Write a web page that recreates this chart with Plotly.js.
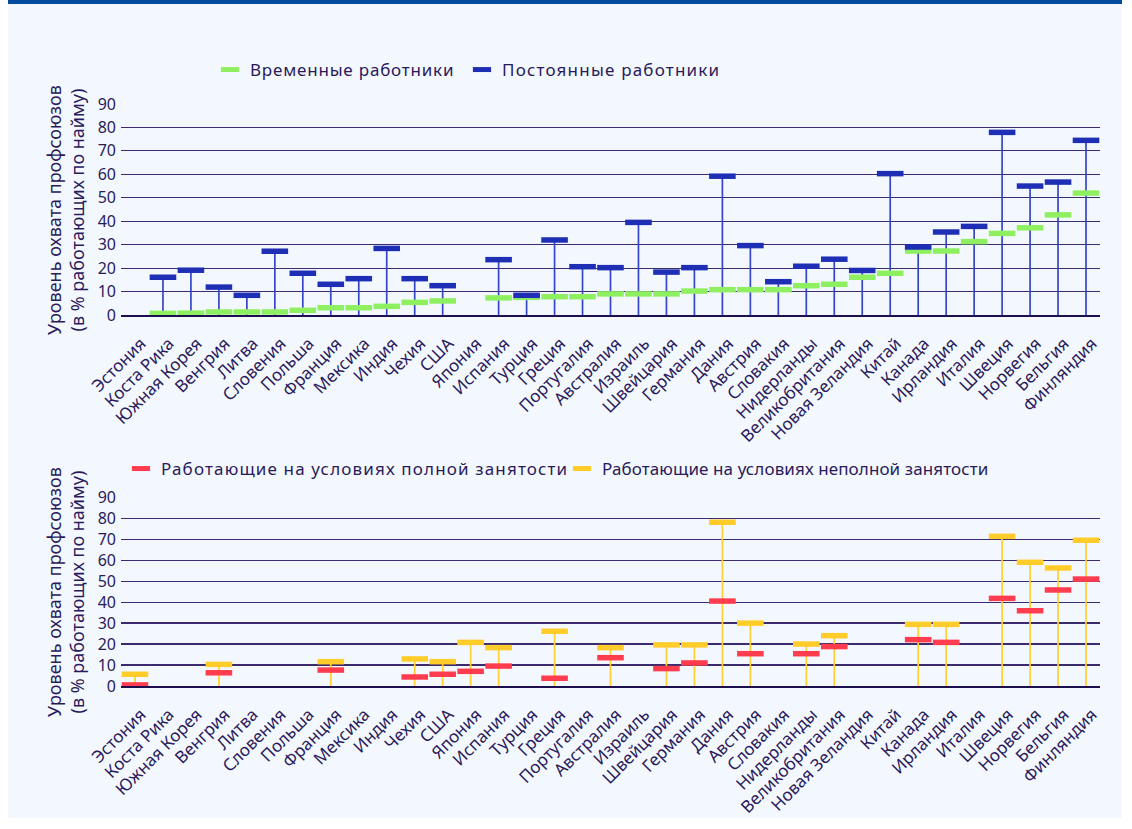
<!DOCTYPE html>
<html><head><meta charset="utf-8">
<script src="https://cdn.plot.ly/plotly-3.0.1.min.js"></script>
<style>
html,body{margin:0;padding:0;background:#ffffff;width:1132px;height:829px;overflow:hidden}
#bg{position:absolute;left:8px;top:0;width:1114px;height:818px;background:#f3f8fe;border-top:4px solid #004b9d;box-sizing:border-box}
#chart{position:absolute;left:0;top:0;width:1132px;height:829px}
</style></head>
<body>
<div id="bg"></div>
<div id="chart"></div>
<script>
const countries = ["Эстония","Коста Рика","Южная Корея","Венгрия","Литва","Словения","Польша","Франция","Мексика","Индия","Чехия","США","Япония","Испания","Турция","Греция","Португалия","Австралия","Израиль","Швейцария","Германия","Дания","Австрия","Словакия","Нидерланды","Великобритания","Новая Зеландия","Китай","Канада","Ирландия","Италия","Швеция","Норвегия","Бельгия","Финляндия"];
const temporary = [null,0.7,0.8,1.3,1.3,1.3,2,3.1,3.1,3.7,5.4,6,null,7.3,7.5,7.8,7.8,9,9,9,10.2,10.8,10.8,10.8,12.5,13.1,16.1,17.8,27.3,27.3,31.3,34.8,37.2,42.7,52];
const permanent = [null,16.1,19.1,11.9,8.4,27.2,17.8,13.1,15.5,28.4,15.5,12.5,null,23.6,8.4,32,20.6,20.2,39.5,18.3,20.2,59.2,29.6,14.2,20.8,23.8,19,60.3,29,35.4,37.8,77.9,55,56.7,74.5];
const fulltime = [0.5,null,null,6.3,null,null,null,7.6,null,null,4.3,5.6,7,9.5,null,3.7,null,13.5,null,8.3,11,40.5,15.4,null,15.4,18.8,null,null,22.1,20.8,null,41.8,35.9,45.8,51];
const parttime = [5.6,null,null,10.3,null,null,null,11.6,null,null,12.9,11.6,20.8,18.3,null,26.1,null,18.3,null,19.6,19.6,78.1,30,null,20,24,null,null,29.4,29.4,null,71.4,59,56.3,69.5];
const yTicks = [0,10,20,30,40,50,60,70,80,90];
const seriesNames = ['Временные работники','Постоянные работники','Работающие на условиях полной занятости','Работающие на условиях неполной занятости'];

const txt = '#2a1a5c';
const fam = '"Noto Sans", "Open Sans", sans-serif';
const font = {family:fam, size:16, color:txt};
const xfont = {family:fam, size:17, color:txt};
const lfont = {family:fam, size:17, color:txt};
const tfont = {family:fam, size:18, color:txt};
const legendSpacing = ['0.8px','1.2px','1.15px','0.1px'];

function stems(a, b, xa, ya, color){
  const xs=[], ys=[];
  countries.forEach((c,i)=>{
    const v = [a[i], b[i]].filter(t=>t!==null);
    if(v.length){ xs.push(c,c,null); ys.push(0,Math.max(...v),null); }
  });
  return {type:'scatter', mode:'lines', x:xs, y:ys, xaxis:xa, yaxis:ya,
    line:{color:color, width:1.7}, showlegend:false, hoverinfo:'skip', connectgaps:false, cliponaxis:false};
}
function dash(vals, name, color, xa, ya){
  return {type:'scatter', mode:'markers', x:countries, y:vals, name:name, xaxis:xa, yaxis:ya, showlegend:false,
    cliponaxis:false,
    marker:{symbol:'line-ew', size:19, color:color, line:{color:color, width:5.5}}};
}
function key(name, color, xa, ya, legend){
  return {type:'scatter', mode:'markers', x:[null], y:[null], name:name, xaxis:xa, yaxis:ya, legend:legend,
    marker:{symbol:'line-ew', size:13, color:color, line:{color:color, width:5}}};
}

const cTemp='#8ef060', cPerm='#1f2fb5', cFull='#ff3d4f', cPart='#ffcc2a';
const data = [
  stems(temporary, permanent, 'x', 'y', '#3646c8'),
  dash(temporary, seriesNames[0], cTemp, 'x', 'y'),
  dash(permanent, seriesNames[1], cPerm, 'x', 'y'),
  stems(fulltime, parttime, 'x2', 'y2', '#ffcf33'),
  dash(fulltime, seriesNames[2], cFull, 'x2', 'y2'),
  dash(parttime, seriesNames[3], cPart, 'x2', 'y2'),
  key(seriesNames[0], cTemp, 'x', 'y', 'legend'),
  key(seriesNames[1], cPerm, 'x', 'y', 'legend2'),
  key(seriesNames[2], cFull, 'x2', 'y2', 'legend3'),
  key(seriesNames[3], cPart, 'x2', 'y2', 'legend4')
];

const H = 829, L = 121, W = 979;
function py(p){ return 1 - p/H; }
function px(p){ return (p - L)/W; }

function xax(anchor){
  return {type:'category', categoryorder:'array', categoryarray:countries, range:[-0.5,34.5], anchor:anchor,
    tickangle:-45, tickfont:xfont, showgrid:false, showline:true, linecolor:'#1d0f4d', linewidth:2,
    ticks:'', ticklabelstandoff:10, ticklabelshift:6, automargin:false, zeroline:false, fixedrange:true};
}
function yax(d, anchor){
  return {range:[0,90], domain:d, anchor:anchor, tickvals:yTicks, tickfont:font, showgrid:true,
    gridcolor:'#3b2a6d', gridwidth:1.2, zeroline:false, showline:false, ticks:'', ticklabelstandoff:4,
    automargin:false, fixedrange:true};
}
function leg(xp, yp){
  return {orientation:'h', x:px(xp), xanchor:'left', y:py(yp), yanchor:'middle', bgcolor:'rgba(0,0,0,0)', font:lfont, borderwidth:0};
}

const layout = {
  width:1132, height:829,
  margin:{l:L, r:32, t:0, b:0},
  paper_bgcolor:'rgba(0,0,0,0)', plot_bgcolor:'rgba(0,0,0,0)',
  font:font,
  xaxis:xax('y'),
  yaxis:yax([py(315), py(104)], 'x'),
  xaxis2:xax('y2'),
  yaxis2:yax([py(686), py(497.3)], 'x2'),
  legend:leg(210, 70),
  legend2:leg(462, 70),
  legend3:leg(121, 469),
  legend4:leg(562, 469),
  annotations:[
    {text:'Уровень охвата профсоюзов<br>(в % работающих по найму)', xref:'paper', yref:'paper', x:px(65), y:py(210),
     xanchor:'center', yanchor:'middle', textangle:-90, showarrow:false, font:tfont},
    {text:'Уровень охвата профсоюзов<br>(в % работающих по найму)', xref:'paper', yref:'paper', x:px(65), y:py(592),
     xanchor:'center', yanchor:'middle', textangle:-90, showarrow:false, font:tfont}
  ],
  showlegend:true
};

function tweakLegends(){
  document.querySelectorAll('#chart text').forEach(el=>{
    const i = seriesNames.indexOf(el.textContent.trim());
    if(i >= 0) el.style.setProperty('letter-spacing', legendSpacing[i], 'important');
  });
  document.querySelectorAll('#chart [clip-path]').forEach(el=>{
    const cp = el.getAttribute('clip-path') || '';
    if(cp.indexOf('legend') >= 0){ el.removeAttribute('clip-path'); }
  });
  document.querySelectorAll('#chart .scrollbox').forEach(el=>{ el.style.clipPath = 'none'; });
}

const gd = document.getElementById('chart');
Plotly.newPlot(gd, data, layout, {displayModeBar:false, staticPlot:true}).then(()=>{
  tweakLegends();
  gd.on('plotly_afterplot', tweakLegends);
  setTimeout(tweakLegends, 100);
  setTimeout(tweakLegends, 400);
});
</script>
</body></html>
